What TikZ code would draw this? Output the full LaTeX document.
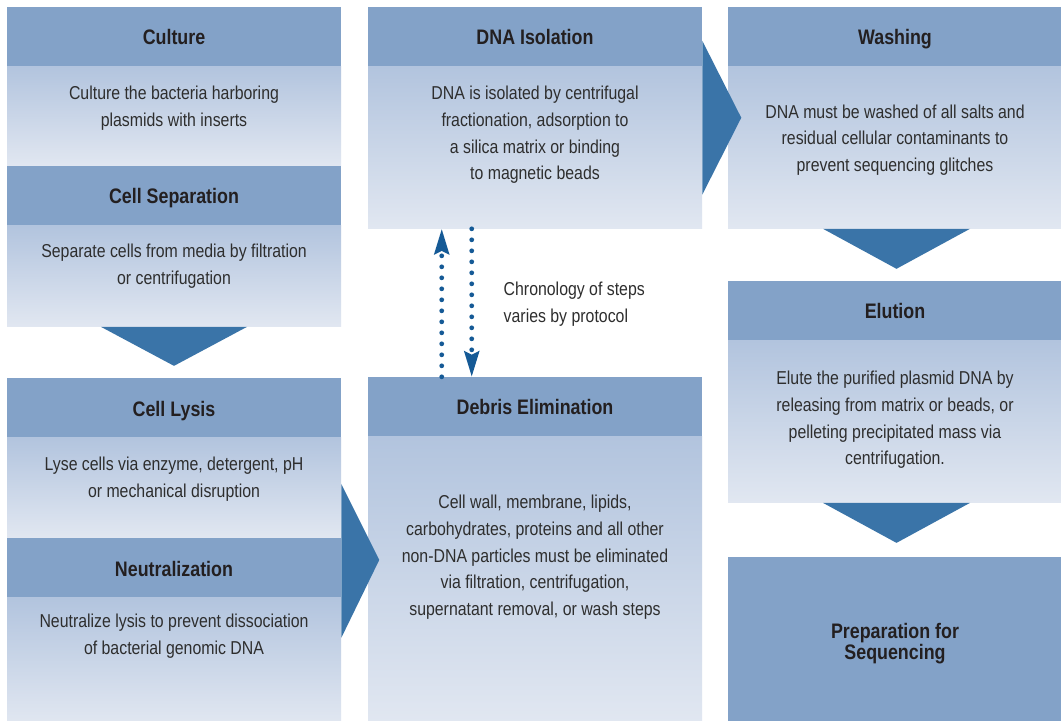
\documentclass[tikz,border=0pt]{standalone}
\usepackage{fontspec}
\setmainfont{Liberation Sans}[FakeStretch=0.85]
\usepackage{xcolor}
\usetikzlibrary{arrows.meta, positioning, calc}

\definecolor{headblue}{HTML}{83A2C8}
\definecolor{bodytop}{HTML}{B2C4DE}
\definecolor{bodybot}{HTML}{E1E7F1}
\definecolor{arrowblue}{HTML}{3A74A8}
\definecolor{dotblue}{HTML}{155A96}
\definecolor{titlegray}{HTML}{231F20}
\definecolor{textgray}{HTML}{2E2E2E}

\begin{document}
\begin{tikzpicture}[x=0.75pt, y=-0.75pt,
    headbox/.style={rectangle, fill=headblue, inner sep=0pt, minimum width=250.5pt,
        minimum height=44.25pt, text=titlegray, font=\fontsize{15.75}{18}\selectfont\bfseries},
    stephead/.style={headbox, text height=12.6pt, text depth=0pt},
    stepbody/.style={rectangle, inner sep=0pt, minimum width=250.5pt,
        top color=bodytop, bottom color=bodybot},
    steptext/.style={align=center, text=textgray, yshift=-1.5pt, font=\fontsize{14}{20}\selectfont},
    flowarrow/.style={fill=arrowblue},
    dotarrow/.style={draw=dotblue, line width=3.6pt, line cap=round,
        dash pattern=on 0pt off 8.25pt, -{Stealth[length=19pt, width=11pt, inset=2.5pt]}}]

    \path[use as bounding box, fill=white] (0,0) rectangle (1061,721);

    % Left column
    \node[stephead] (culturehead) at (174,36.5) {Culture};
    \node[stepbody, minimum height=74.25pt, below=0pt of culturehead] (culturebody) {};
    \node[stephead, below=0pt of culturebody] (sephead) {Cell Separation};
    \node[stepbody, minimum height=75.75pt, below=0pt of sephead] (sepbody) {};
    \node[stephead, below=38.25pt of sepbody] (lysishead) {Cell Lysis};
    \node[stepbody, minimum height=75pt, below=0pt of lysishead] (lysisbody) {};
    \node[stephead, below=0pt of lysisbody] (neutralhead) {Neutralization};
    \node[stepbody, minimum height=94.5pt, below=0pt of neutralhead] (neutralbody) {};

    \node[steptext] (culturetxt) at (174,106.5) {Culture the bacteria harboring\\plasmids with inserts};
    \node[steptext] (septxt) at (174,264.5) {Separate cells from media by filtration\\or centrifugation};
    \node[steptext] (lysistxt) at (174,477) {Lyse cells via enzyme, detergent, pH\\or mechanical disruption};
    \node[steptext] (neutraltxt) at (174,634) {Neutralize lysis to prevent dissociation\\of bacterial genomic DNA};

    % Middle column
    \node[stephead] (dnahead) at (535,36.5) {DNA Isolation};
    \node[stepbody, minimum height=121.5pt, below=0pt of dnahead] (dnabody) {};
    \node[stephead, below=111pt of dnabody] (debrishead) {Debris Elimination};
    \node[stepbody, minimum height=214.5pt, below=0pt of debrishead] (debrisbody) {};

    \node[steptext] (dnatxt) at (535,133) {DNA is isolated by centrifugal\\fractionation, adsorption to\\a silica matrix or binding\\to magnetic beads};
    \node[steptext] (debristxt) at (535,555.5) {Cell wall, membrane, lipids,\\carbohydrates, proteins and all other\\non-DNA particles must be eliminated\\via filtration, centrifugation,\\supernatant removal, or wash steps};

    % Right column
    \node[stephead] (washhead) at (895,36.5) {Washing};
    \node[stepbody, minimum height=121.5pt, below=0pt of washhead] (washbody) {};
    \node[stephead, below=39pt of washbody] (eluhead) {Elution};
    \node[stepbody, minimum height=121.5pt, below=0pt of eluhead] (elubody) {};
    \node[headbox, minimum height=124.5pt, align=center, below=40.5pt of elubody,
        font=\fontsize{15.75}{16}\selectfont\bfseries] (prep) {};
    \node[align=center, text=titlegray, font=\fontsize{15.75}{16}\selectfont\bfseries,
        yshift=-2.6pt] (preptxt) at (prep.center) {Preparation for\\Sequencing};

    \node[steptext] (washtxt) at (895,138) {DNA must be washed of all salts and\\residual cellular contaminants to\\prevent sequencing glitches};
    \node[steptext] (elutxt) at (895,418) {Elute the purified plasmid DNA by\\releasing from matrix or beads, or\\pelleting precipitated mass via\\centrifugation.};

    % Flow arrows
    \fill[flowarrow] ($(sepbody.south)+(-73,0)$) -- ($(sepbody.south)+(73,0)$) -- ($(sepbody.south)+(0,39)$) -- cycle;
    \fill[flowarrow] ($(washbody.south)+(-72,0)$) -- ($(washbody.south)+(75,0)$) -- ($(washbody.south)+(1.5,40)$) -- cycle;
    \fill[flowarrow] ($(elubody.south)+(-72,0)$) -- ($(elubody.south)+(75,0)$) -- ($(elubody.south)+(1.5,40)$) -- cycle;
    \fill[flowarrow] ($(lysisbody.south east)+(0,-54)$) -- ($(lysisbody.south east)+(0,100)$) -- ($(lysisbody.south east)+(38,22)$) -- cycle;
    \fill[flowarrow] ($(dnahead.north east)+(0,34)$) -- ($(dnahead.north east)+(0,188)$) -- ($(dnahead.north east)+(39,111)$) -- cycle;

    % Order can change
    \draw[dotarrow] ($(debrishead.north west)+(74,0)$) -- ($(dnabody.south west)+(74,0)$);
    \draw[dotarrow] ($(dnabody.south west)+(104,0)$) -- ($(debrishead.north west)+(104,0)$);
    \node[steptext, align=left, anchor=west] (chrono) at (499,302) {Chronology of steps\\varies by protocol};
\end{tikzpicture}
\end{document}
